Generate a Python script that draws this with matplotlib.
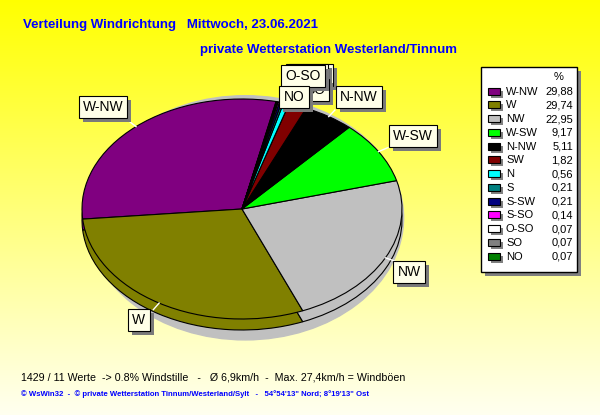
import numpy as np
import matplotlib.pyplot as plt
from matplotlib.patches import Rectangle, Ellipse

plt.rcParams['font.family'] = ['Liberation Sans', 'DejaVu Sans']

# data
directions = ["W-NW", "W", "NW", "W-SW", "N-NW", "SW", "N", "S", "S-SW", "S-SO", "O-SO", "SO", "NO"]
percent = [29.88, 29.74, 22.95, 9.17, 5.11, 1.82, 0.56, 0.21, 0.21, 0.14, 0.07, 0.07, 0.07]
colors = ["#800080", "#808000", "#c0c0c0", "#00ff00", "#000000", "#800000", "#00ffff",
          "#008080", "#000080", "#ff00ff", "#ffffff", "#808080", "#008000"]

title = "Verteilung Windrichtung   Mittwoch, 23.06.2021"
subtitle = "private Wetterstation Westerland/Tinnum"
info = "1429 / 11 Werte  -> 0.8% Windstille   -   Ø 6,9km/h  -  Max. 27,4km/h = Windböen"
footer = "© WsWin32  -  © private Wetterstation Tinnum/Westerland/Sylt   -   54°54'13\" Nord; 8°19'13\" Ost"

# layout (pixels)
W, H = 600, 415
cx, cy = 242, 209          # centre of pie top
rx, ry = 160, 110          # radii of the tilted pie
depth = 0.1                # thickness of the pie (axes units)
start = 77.7
lim = 1.25

# label boxes on the pie, drawn in this order (back ones first)
label_pos = {"S-SW": (311, 75), "S-SO": (307, 75), "SO": (315, 90), "O-SO": (303, 76),
             "NO": (294, 97), "N-NW": (359, 97), "W-SW": (413, 136), "NW": (409, 272),
             "W": (139, 320), "W-NW": (103, 107)}
leader = ["W-NW", "W", "NW", "W-SW", "N-NW"]

fig = plt.figure(figsize=(6, 4.15), dpi=100)

# yellow gradient background
bg = fig.add_axes([0, 0, 1, 1])
grad = np.linspace(0, 1, 256)
img = np.stack([np.ones_like(grad), np.ones_like(grad), 0.94 * grad], axis=1)[:, None, :]
bg.imshow(img, extent=(0, W, H, 0), aspect='auto', zorder=0)
bg.set_xlim(0, W)
bg.set_ylim(H, 0)
bg.axis('off')

# titles
bg.text(23, 25, title, color='#0000ff', fontsize=9.5, fontweight='bold', va='center')
bg.text(200, 50, subtitle, color='#0000ff', fontsize=9.5, fontweight='bold', va='center')
bg.text(21, 377, info, color='black', fontsize=7.65, va='center')
bg.text(21, 394, footer, color='#0000ff', fontsize=5.6, fontweight='bold', va='center')

# legend box
lx0, lx1, ly0, ly1 = 481, 577, 67, 272
bg.add_patch(Rectangle((lx0 + 4, ly0 + 4), lx1 - lx0, ly1 - ly0, fc='#808080', ec='none', zorder=2))
bg.add_patch(Rectangle((lx0, ly0), lx1 - lx0, ly1 - ly0, fc='white', ec='black', lw=1, zorder=3))
bg.text(559, 77, '%', fontsize=8, ha='center', va='center', zorder=4)
for i, (name, val, col) in enumerate(zip(directions, percent, colors)):
    y = 91.7 + i * 13.75
    bg.add_patch(Rectangle((491, y - 1), 12, 7, fc='#808080', ec='none', zorder=4))
    bg.add_patch(Rectangle((488, y - 4), 12, 7, fc=col, ec='black', lw=0.8, zorder=5))
    bg.text(506, y, name, fontsize=8, ha='left', va='center', zorder=5)
    bg.text(573, y, f"{val:.2f}".replace('.', ','), fontsize=8, ha='right', va='center', zorder=5)

# pie
pax = fig.add_axes([(cx - lim * rx) / W, (H - cy - lim * ry) / H, 2 * lim * rx / W, 2 * lim * ry / H])
pax.set_zorder(2)
pax.add_patch(Ellipse((0.02, -0.08), 1.98, 2.22, color='#c0c0c0', zorder=0))
wp = dict(edgecolor='black', linewidth=0.8)
pax.pie(percent, colors=colors, startangle=start, counterclock=True, center=(0, -depth), wedgeprops=wp)
wedges, _ = pax.pie(percent, colors=colors, startangle=start, counterclock=True, wedgeprops=wp)
pax.set_aspect('auto')
pax.set_xlim(-lim, lim)
pax.set_ylim(-lim, lim)
pax.axis('off')

# white leader lines
for name in leader:
    w = wedges[directions.index(name)]
    th = np.deg2rad((w.theta1 + w.theta2) / 2)
    r = np.array([1.0, 1.07])
    pax.plot(r * np.cos(th), r * np.sin(th), color='white', lw=1, zorder=4)

# overlay for the label boxes (pixel coordinates)
lax = fig.add_axes([0, 0, 1, 1])
lax.set_zorder(3)
lax.set_xlim(0, W)
lax.set_ylim(H, 0)
lax.axis('off')

texts = []
for k, (name, (x, y)) in enumerate(label_pos.items()):
    t = lax.text(x, y, name, ha='center', va='center', fontsize=10,
                 bbox=dict(boxstyle='square,pad=0.3', fc='#ffffe8', ec='black', lw=0.8), zorder=5 + k)
    texts.append(t)

# grey drop shadow under each label box
fig.canvas.draw()
inv = lax.transData.inverted()
for t in texts:
    bb = t.get_bbox_patch().get_window_extent()
    (x0, y0), (x1, y1) = inv.transform([(bb.x0, bb.y1), (bb.x1, bb.y0)])
    lax.add_patch(Rectangle((x0 + 4, y0 + 4), x1 - x0, y1 - y0, fc='#7a7a7a', ec='none',
                            zorder=t.get_zorder() - 0.5, clip_on=False))

fig.savefig('out.png', dpi=100)
